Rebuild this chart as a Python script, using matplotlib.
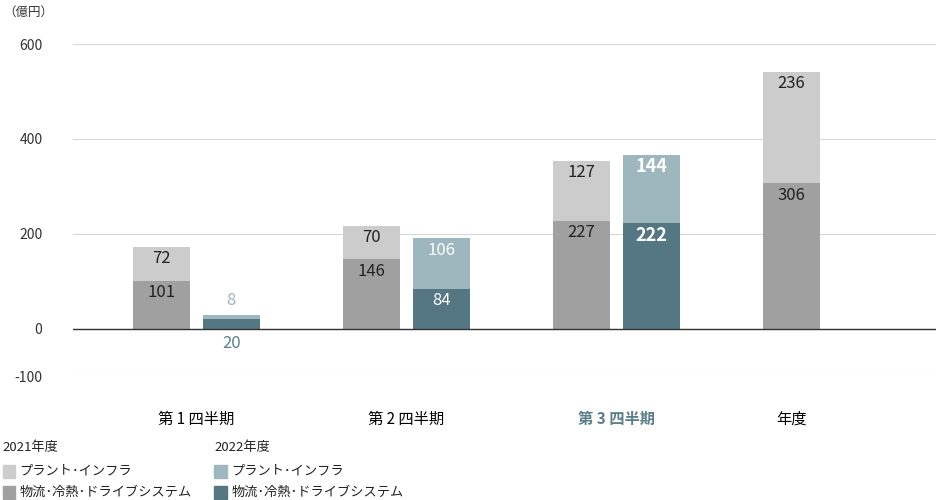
import matplotlib
matplotlib.use("Agg")
import matplotlib.pyplot as plt
from matplotlib.patches import Rectangle

plt.rcParams["font.family"] = "Noto Sans CJK JP"

categories = ["第 1 四半期", "第 2 四半期", "第 3 四半期", "年度"]
y2021_drive = [101, 146, 227, 306]
y2021_plant = [72, 70, 127, 236]
y2022_drive = [20, 84, 222]
y2022_plant = [8, 106, 144]
yticks = [-100, 0, 200, 400, 600]

c21l, c21d = "#cccccc", "#a0a0a0"
c22l, c22d = "#9eb6be", "#557683"
teal_txt = "#5b7e89"

fig = plt.figure(figsize=(9.36, 5), dpi=100)
ax = fig.add_axes([0.078, 0.248, 0.922, 0.664])
w = 0.271
off = 0.1667
lo = 25
for i, cat in enumerate(categories):
    x = i if i < 3 else 2.833
    x21 = x - off if i < 3 else x
    d, p = y2021_drive[i], y2021_plant[i]
    ax.bar(x21, d, w, color=c21d, zorder=2)
    ax.bar(x21, p, w, bottom=d, color=c21l, zorder=2)
    ax.text(x21, d - lo, str(d), ha="center", va="center", fontsize=12, color="#222")
    ax.text(x21, d + p - lo, str(p), ha="center", va="center", fontsize=12, color="#222")
    if i < 3:
        x22 = x + off
        d2, p2 = y2022_drive[i], y2022_plant[i]
        ax.bar(x22, d2, w, color=c22d, zorder=2)
        ax.bar(x22, p2, w, bottom=d2, color=c22l, zorder=2)
        if i == 0:
            ax.text(x22, -32, str(d2), ha="center", va="center", fontsize=12, color=teal_txt)
            ax.text(x22, d2 + p2 + 32, str(p2), ha="center", va="center", fontsize=12, color=c22l)
        else:
            bold = "bold" if i == 2 else "normal"
            fs = 13 if i == 2 else 12
            ax.text(x22, d2 - lo, str(d2), ha="center", va="center", fontsize=fs, color="white", fontweight=bold)
            ax.text(x22, d2 + p2 - lo, str(p2), ha="center", va="center", fontsize=fs, color="white", fontweight=bold)

ax.set_xlim(-0.586, 3.52)
ax.set_ylim(-100, 600)
ax.set_yticks(yticks)
ax.set_yticklabels([str(t) for t in yticks], fontsize=10, color="#333")
ax.yaxis.grid(True, color="#d8d8d8", lw=0.8, zorder=0)
ax.axhline(0, color="#333", lw=1, zorder=3)
ax.set_xticks([0, 1, 2, 2.833])
ax.set_xticklabels(categories, fontsize=11)
for j, lbl in enumerate(ax.get_xticklabels()):
    if j == 2:
        lbl.set_color(teal_txt); lbl.set_fontweight("bold")
ax.tick_params(axis="x", length=0, pad=25)
ax.tick_params(axis="y", length=0, pad=22)
for s in ax.spines.values():
    s.set_visible(False)
fig.text(0.003, 0.975, "（億円）", fontsize=9, color="#333", va="center")

def leg(x, y, color, text):
    fig.patches.append(Rectangle((x, y - 0.013), 0.013, 0.026, transform=fig.transFigure, color=color))
    fig.text(x + 0.018, y, text, fontsize=9.5, va="center", color="#222")

fig.text(0.003, 0.104, "2021年度", fontsize=9.5, va="center", color="#222")
leg(0.003, 0.058, c21l, "プラント･インフラ")
leg(0.003, 0.016, c21d, "物流･冷熱･ドライブシステム")
fig.text(0.229, 0.104, "2022年度", fontsize=9.5, va="center", color="#222")
leg(0.229, 0.058, c22l, "プラント･インフラ")
leg(0.229, 0.016, c22d, "物流･冷熱･ドライブシステム")

fig.savefig("out.png", dpi=100)
